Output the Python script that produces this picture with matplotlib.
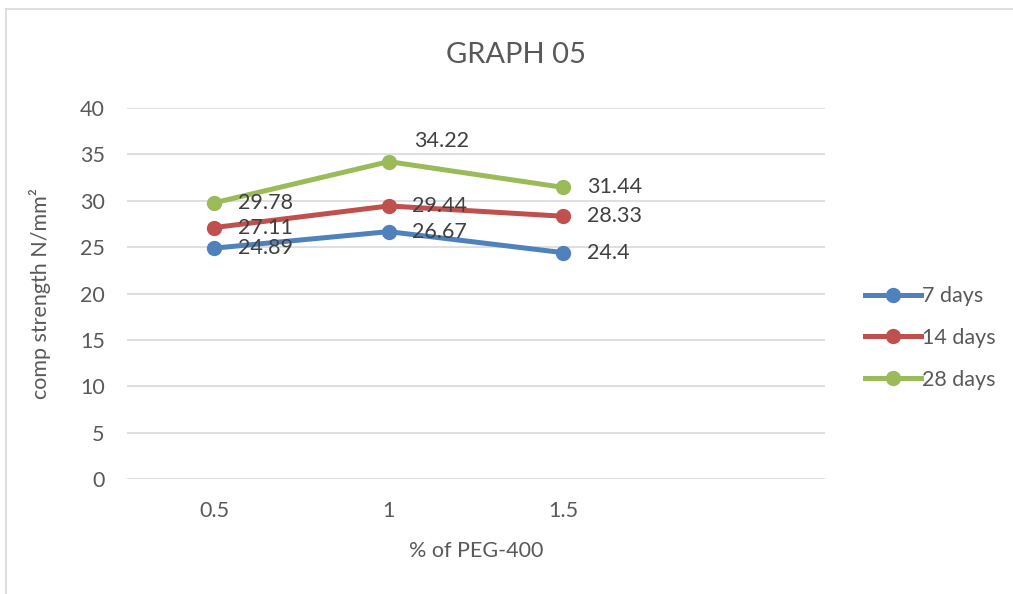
import matplotlib
matplotlib.use("Agg")
import matplotlib.pyplot as plt
import numpy as np
from matplotlib.lines import Line2D

# data
categories = ["0.5", "1", "1.5", ""]
days_7 = [24.89, 26.67, 24.4]
days_14 = [27.11, 29.44, 28.33]
days_28 = [29.78, 34.22, 31.44]
series_names = ["7 days", "14 days", "28 days"]
series_colors = ["#4F81BD", "#C0504D", "#9BBB59"]

plt.rcParams['font.family'] = ['Lato', 'DejaVu Sans']
text_col = "#595959"
fs = 15.5

fig = plt.figure(figsize=(10.13, 5.94), dpi=100)
ax = fig.add_axes([127/1013, 1 - 479/594, 698/1013, 371/594])

x = np.arange(len(days_7))
for vals, name, col in zip([days_7, days_14, days_28], series_names, series_colors):
	ax.plot(x, vals, color=col, lw=3.6, marker="o", ms=10, label=name,
		solid_capstyle="round")
	for xi, v in zip(x, vals):
		off = (17, 0)
		if v == max(days_28):
			# label sits above-right in the original
			off = (18, 15)
		ax.annotate('{}'.format(v), xy=(xi, v), xytext=off,
			textcoords="offset points", ha="left", va="center",
			color="#404040", fontsize=fs)

ax.set_xlim(-0.5, len(categories) - 0.5)
ax.set_ylim(0, 40)
ax.set_yticks(np.arange(0, 41, 5))
ax.set_xticks(np.arange(len(categories)))
ax.set_xticklabels(categories)
ax.grid(axis="y", color="#D9D9D9", lw=1.2)
ax.set_axisbelow(True)
for s in ax.spines.values():
	s.set_visible(False)
ax.tick_params(length=0, labelsize=fs, colors=text_col)
ax.tick_params(axis="y", pad=16)
ax.tick_params(axis="x", pad=16)

ax.set_xlabel("% of PEG-400", fontsize=fs, color=text_col, labelpad=14)
ax.set_ylabel("comp strength N/mm²", fontsize=fs, color=text_col, va="center")
ax.yaxis.set_label_coords(-0.124, 0.5)

fig.text(516/1013, 1 - 55/594, "GRAPH 05", ha="center", va="center",
	fontsize=21, color=text_col)

handles = [Line2D([0], [0], color=c, lw=3.6, marker="o", ms=10) for c in series_colors]
fig.legend(handles, series_names, loc="center left",
	bbox_to_anchor=(846/1013, 1 - 338/594), frameon=False,
	fontsize=fs, labelcolor=text_col, handlelength=2.6,
	handletextpad=0.05, labelspacing=1.0)

# chart border (left and top visible)
fig.add_artist(Line2D([6/1013, 6/1013], [0, 1 - 9/594], color="#D9D9D9", lw=1.2))
fig.add_artist(Line2D([6/1013, 1], [1 - 9/594, 1 - 9/594], color="#D9D9D9", lw=1.2))

fig.savefig("out.png", dpi=100)
